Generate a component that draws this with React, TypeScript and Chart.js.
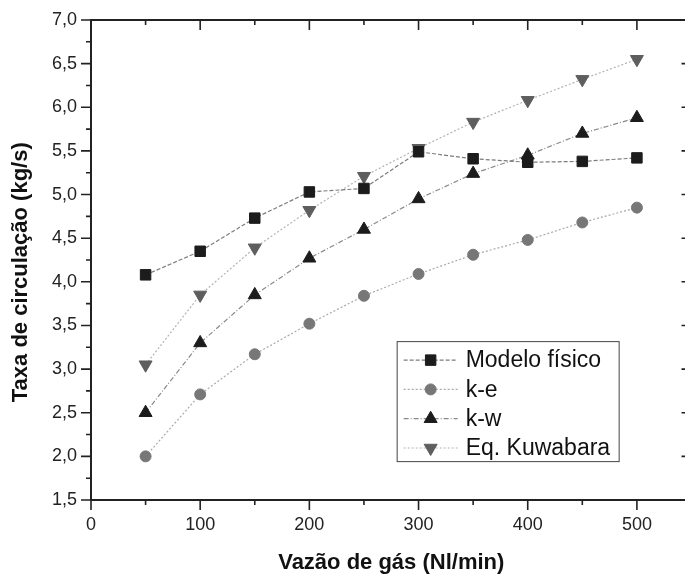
import React, { useEffect, useRef } from "react";
import { Chart, registerables } from "chart.js";

Chart.register(...registerables);

// ---------- data ----------
const xValues = [50, 100, 150, 200, 250, 300, 350, 400, 450, 500];
const modeloFisico = [4.08, 4.35, 4.73, 5.03, 5.07, 5.49, 5.41, 5.37, 5.38, 5.42];
const kE = [2.0, 2.71, 3.17, 3.52, 3.84, 4.09, 4.31, 4.48, 4.68, 4.85];
const kW = [2.5, 3.3, 3.85, 4.27, 4.6, 4.95, 5.24, 5.45, 5.7, 5.88];
const kuwabara = [3.05, 3.85, 4.39, 4.82, 5.21, 5.53, 5.83, 6.08, 6.32, 6.55];
const seriesLabels = ["Modelo físico", "k-e", "k-w", "Eq. Kuwabara"];
const xTitle = "Vazão de gás (Nl/min)";
const yTitle = "Taxa de circulação (kg/s)";
const xMin = 0;
const xMax = 550;
const xMajor = 100;
const xMinor = 50;
const yMin = 1.5;
const yMax = 7;
const yMajor = 0.5;
const yMinor = 0.25;

const FONT = "'Liberation Sans', Arial, sans-serif";

type Style = {
  point: string;
  rotation: number;
  radius: number;
  fill: string;
  line: string;
  dash: number[];
};

const styles: Style[] = [
  { point: "rect", rotation: 0, radius: 7.4, fill: "#1c1c1c", line: "#7c7c7c", dash: [4, 2] },
  { point: "circle", rotation: 0, radius: 5.5, fill: "#777777", line: "#a9a9a9", dash: [2, 2] },
  { point: "triangle", rotation: 0, radius: 7.5, fill: "#1c1c1c", line: "#8a8a8a", dash: [5, 2, 1, 2] },
  { point: "triangle", rotation: 180, radius: 7.5, fill: "#5e5e5e", line: "#b3b3b3", dash: [2, 2] },
];

const seriesValues = [modeloFisico, kE, kW, kuwabara];

function drawMarker(ctx: CanvasRenderingContext2D, s: Style, x: number, y: number) {
  ctx.save();
  ctx.fillStyle = s.fill;
  ctx.strokeStyle = s.fill;
  ctx.lineWidth = 1;
  ctx.setLineDash([]);
  ctx.beginPath();
  const r = s.radius;
  if (s.point === "rect") {
    const h = Math.SQRT1_2 * r;
    ctx.rect(x - h, y - h, 2 * h, 2 * h);
  } else if (s.point === "circle") {
    ctx.arc(x, y, r, 0, Math.PI * 2);
  } else {
    const up = s.rotation === 0 ? 1 : -1;
    let a = 0;
    for (let k = 0; k < 3; k++) {
      const px = x + Math.sin(a) * r;
      const py = y - up * Math.cos(a) * r;
      if (k === 0) ctx.moveTo(px, py);
      else ctx.lineTo(px, py);
      a += (2 * Math.PI) / 3;
    }
    ctx.closePath();
  }
  ctx.fill();
  ctx.stroke();
  ctx.restore();
}

const framePlugin = {
  id: "frameTicks",
  afterDatasetsDraw(chart: any) {
    const { ctx, chartArea } = chart;
    const { left, right, top, bottom } = chartArea;
    const xs = chart.scales.x;
    const ys = chart.scales.y;
    ctx.save();
    ctx.strokeStyle = "#222";
    ctx.setLineDash([]);
    ctx.lineWidth = 2;
    ctx.strokeRect(left, top, right - left, bottom - top);
    ctx.lineWidth = 1.6;
    ctx.beginPath();
    for (let v = xMin; v <= xMax + 1e-9; v += xMinor) {
      const px = xs.getPixelForValue(v);
      const major = Math.abs(v / xMajor - Math.round(v / xMajor)) < 1e-9;
      const len = major ? 10 : 5;
      ctx.moveTo(px, bottom);
      ctx.lineTo(px, bottom + len);
      ctx.moveTo(px, top);
      ctx.lineTo(px, top + len);
    }
    for (let v = yMin; v <= yMax + 1e-9; v += yMinor) {
      const py = ys.getPixelForValue(v);
      const major = Math.abs(v / yMajor - Math.round(v / yMajor)) < 1e-9;
      const len = major ? 10 : 5;
      ctx.moveTo(left, py);
      ctx.lineTo(left - len, py);
      ctx.moveTo(right, py);
      ctx.lineTo(right - len, py);
    }
    ctx.stroke();
    ctx.restore();
  },
  afterDraw(chart: any) {
    const { ctx, chartArea } = chart;
    const w = chartArea.right - chartArea.left;
    const h = chartArea.bottom - chartArea.top;
    const bx = chartArea.left + 0.509 * w;
    const by = chartArea.top + 0.669 * h;
    const bw = 222;
    const bh = 120;
    ctx.save();
    ctx.fillStyle = "#fff";
    ctx.fillRect(bx, by, bw, bh);
    ctx.strokeStyle = "#444";
    ctx.lineWidth = 1;
    ctx.setLineDash([]);
    ctx.strokeRect(bx + 0.5, by + 0.5, bw, bh);
    ctx.font = `23px ${FONT}`;
    ctx.textBaseline = "middle";
    ctx.textAlign = "left";
    seriesLabels.forEach((label, i) => {
      const s = styles[i];
      const ry = by + 19 + i * 29.3;
      ctx.strokeStyle = s.line;
      ctx.lineWidth = 1.2;
      ctx.setLineDash(s.dash);
      ctx.beginPath();
      ctx.moveTo(bx + 7, ry);
      ctx.lineTo(bx + 61, ry);
      ctx.stroke();
      drawMarker(ctx, s, bx + 34, ry);
      ctx.fillStyle = "#111";
      ctx.fillText(label, bx + 69, ry + 1);
    });
    ctx.restore();
  },
};

export default function App() {
  const ref = useRef<HTMLCanvasElement | null>(null);

  useEffect(() => {
    if (!ref.current) return;
    const datasets = seriesValues.map((vals, i) => {
      const s = styles[i];
      return {
        label: seriesLabels[i],
        data: xValues.map((x, j) => ({ x, y: vals[j] })),
        borderColor: s.line,
        borderWidth: 1.2,
        borderDash: s.dash,
        backgroundColor: s.fill,
        pointStyle: s.point,
        pointRotation: s.rotation,
        pointRadius: s.radius,
        pointBackgroundColor: s.fill,
        pointBorderColor: s.fill,
        pointBorderWidth: 1,
        fill: false,
        tension: 0,
      };
    });
    const chart = new Chart(ref.current, {
      type: "line",
      data: { datasets } as any,
      options: {
        animation: false,
        responsive: false,
        devicePixelRatio: 1,
        layout: { padding: { top: 20, right: 6, left: 0, bottom: 0 } },
        plugins: { legend: { display: false }, tooltip: { enabled: false } },
        scales: {
          x: {
            type: "linear",
            min: xMin,
            max: xMax,
            border: { display: false },
            grid: { display: false, drawTicks: true, tickLength: 10 },
            ticks: {
              stepSize: xMajor,
              includeBounds: false,
              autoSkip: false,
              maxRotation: 0,
              padding: 4,
              color: "#222",
              font: { family: FONT, size: 18 },
              callback: (v: any) => String(v),
            },
            title: {
              display: true,
              text: xTitle,
              color: "#111",
              font: { family: FONT, size: 22, weight: "bold", lineHeight: 1 },
              padding: { top: 0, bottom: 0 },
            },
            afterFit: (scale: any) => {
              scale.height = 74;
            },
          },
          y: {
            type: "linear",
            min: yMin,
            max: yMax,
            border: { display: false },
            grid: { display: false, drawTicks: true, tickLength: 10 },
            ticks: {
              stepSize: yMajor,
              autoSkip: false,
              padding: 4,
              color: "#222",
              font: { family: FONT, size: 18 },
              callback: (v: any) => Number(v).toFixed(1).replace(".", ","),
            },
            title: {
              display: true,
              text: yTitle + "    ",
              color: "#111",
              font: { family: FONT, size: 22, weight: "bold", lineHeight: 1 },
              padding: { top: 10, bottom: 0 },
            },
            afterFit: (scale: any) => {
              scale.width = 91;
            },
          },
        },
      } as any,
      plugins: [framePlugin],
    });
    return () => chart.destroy();
  }, []);

  return (
    <div
      style={{
        position: "fixed",
        left: 0,
        top: 0,
        width: 685,
        height: 574,
        overflow: "hidden",
        background: "#fff",
      }}
    >
      <canvas ref={ref} width={700} height={574} style={{ display: "block" }} />
    </div>
  );
}
